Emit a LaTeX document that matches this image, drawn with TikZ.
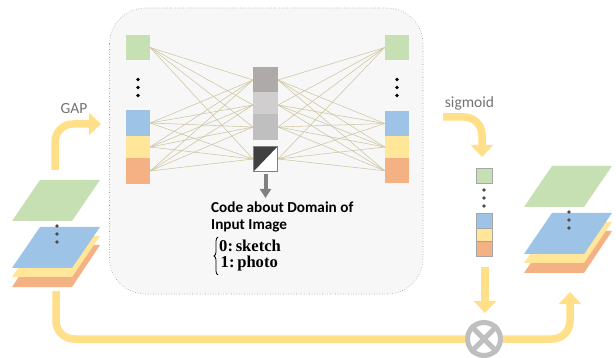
\documentclass[tikz,border=0pt]{standalone}
\usepackage{fontspec}
\setmainfont{Carlito}
\newfontfamily\cambriaish{Liberation Serif}[BoldFont={Liberation Serif Bold}]
\usetikzlibrary{arrows.meta,decorations.pathreplacing}
\definecolor{cgreen}{HTML}{C6E0B4}
\definecolor{cblue}{HTML}{9DC3E6}
\definecolor{cyellow}{HTML}{FFE699}
\definecolor{corange}{HTML}{F4B183}
\definecolor{cpanel}{HTML}{F7F7F7}
\definecolor{cwire}{HTML}{CFC5A0}
\definecolor{cflow}{HTML}{FFDF88}
\definecolor{cgrayd}{HTML}{AEAAAA}
\definecolor{cgrayl}{HTML}{D0CECE}
\definecolor{cgraym}{HTML}{BFBFBF}
\tikzset{
  x=1pt,y=-1pt,
  panel/.style={draw=gray!80,dotted,line width=0.6pt,fill=cpanel,rounded corners=36pt},
  cell/.style={draw=none,inner sep=0pt,outer sep=0pt,minimum width=24.5pt,anchor=north},
  tinycell/.style={draw=gray!70,line width=0.4pt,inner sep=0pt,outer sep=0pt,minimum width=16pt,anchor=north},
  wire/.style={draw=cwire,line width=0.55pt},
  flow/.style={draw=cflow,line width=7.5pt,rounded corners=18pt},
  flowhead/.style={-{Triangle[length=12pt,width=22pt]}},
  sheet/.style={draw=gray!60,draw opacity=0,line width=0.3pt},
  blackdot/.style={circle,fill=black,inner sep=0pt,minimum size=3.8pt},
  graydot/.style={circle,fill=black!70,inner sep=0pt,minimum size=3.8pt},
  caption/.style={anchor=west,inner sep=0pt,font=\fontsize{15.2}{17}\selectfont\bfseries},
  casetext/.style={anchor=west,inner sep=0pt,font=\cambriaish\bfseries\fontsize{16.6}{17.5}\selectfont},
  graylabel/.style={inner sep=0pt,text=black!55,font=\fontsize{15.5}{17}\selectfont},
}
\newcommand{\stackplanes}[2]{%
  % #1 = x of lower-left corner, #2 = y of top of the blue plane
  \fill[corange,sheet] (#1+28,#2+18) -- (#1+88,#2+18) -- (#1+60,#2+60) -- (#1,#2+60) -- cycle;
  \fill[cyellow,sheet] (#1+28,#2+9) -- (#1+88,#2+9) -- (#1+60,#2+50) -- (#1,#2+50) -- cycle;
  \fill[cblue,sheet] (#1+28,#2) -- (#1+88,#2) -- (#1+60,#2+41) -- (#1,#2+41) -- cycle;
  \fill[cgreen,sheet] (#1+28,#2-47) -- (#1+88,#2-47) -- (#1+60,#2-6) -- (#1,#2-6) -- cycle;
}
\begin{document}
\begin{tikzpicture}
\useasboundingbox (0,0) rectangle (616,358);
\fill[white] (0,0) rectangle (616,358);
% panel
\draw[panel] (109.5,8) rectangle (423,294);
% left column
\node[cell,fill=cgreen,minimum height=25pt] (l1) at (138,35) {};
\node[cell,fill=cblue,minimum height=26pt] (l2) at (138,110) {};
\node[cell,fill=cyellow,minimum height=22pt] (l3) at (138,136) {};
\node[cell,fill=corange,minimum height=26pt] (l4) at (138,158) {};
% right column
\node[cell,fill=cgreen,minimum height=25pt] (r1) at (397,35) {};
\node[cell,fill=cblue,minimum height=25pt] (r2) at (397,111) {};
\node[cell,fill=cyellow,minimum height=22pt] (r3) at (397,136) {};
\node[cell,fill=corange,minimum height=25.5pt] (r4) at (397,158) {};
% wires
\coordinate (m1w) at (253,80); \coordinate (m1e) at (278,80);
\coordinate (m2w) at (253,105); \coordinate (m2e) at (278,105);
\coordinate (m3w) at (253,127); \coordinate (m3e) at (278,127);
\coordinate (m4w) at (253,159); \coordinate (m4e) at (278,159);
\foreach \a in {1,2,3,4}{
  \foreach \b in {1,2,3,4}{
    \draw[wire] (l\a.east) -- (m\b w);
    \draw[wire] (m\b e) -- (r\a.west);
  }
}
% middle column
\node[cell,fill=cgrayd,minimum height=25.5pt] (m1) at (265.5,67) {};
\node[cell,fill=cgrayl,minimum height=22pt] (m2) at (265.5,92.5) {};
\node[cell,fill=cgraym,minimum height=25.5pt] (m3) at (265.5,114.5) {};
\node[cell,fill=white,minimum width=24pt,minimum height=25pt,draw=black!50,line width=1.2pt,
  path picture={\fill[black!75] (path picture bounding box.north west) -- (path picture bounding box.north east) -- (path picture bounding box.south west) -- cycle;}] (m4) at (265.5,146.5) {};
% dots
\foreach \y [count=\i] in {79.5,87.5,95.5}{
  \node[blackdot] (ld\i) at (138,\y) {};
  \node[blackdot] (rd\i) at (397,\y) {};
}
% grey arrow and caption
\coordinate (codeend) at (265.5,198);
\draw[draw=black!50,line width=4pt,-{Triangle[length=9pt,width=11pt]}] (265.5,174) -- (codeend);
\node[caption] (cap1) at (211,207) {Code about Domain of};
\node[caption] (cap2) at (211,226) {Input Image};
\coordinate (bracea) at (218,275); \coordinate (braceb) at (218,237);
\draw[line width=0.8pt,decorate,decoration={brace,amplitude=4pt,aspect=0.5}] (bracea) -- (braceb);
\node[casetext] (case0) at (219,246) {0:\,sketch};
\node[casetext] (case1) at (220.5,264) {1:\,photo};
% left planes
\stackplanes{12}{227}
\foreach \y [count=\i] in {226,234,242}{\node[graydot] (lp\i) at (57,\y) {};}
% right planes
\stackplanes{524}{213}
\foreach \y [count=\i] in {212,220,228}{\node[graydot] (rp\i) at (569,\y) {};}
% small column
\node[tinycell,fill=cgreen,minimum height=15pt] (s1) at (484,168) {};
\foreach \y [count=\i] in {190,198,206}{\node[graydot] (sd\i) at (484,\y) {};}
\node[tinycell,fill=cblue,minimum height=15pt] (s2) at (484,213) {};
\node[tinycell,fill=cyellow,minimum height=13pt] (s3) at (484,228) {};
\node[tinycell,fill=corange,minimum height=15pt] (s4) at (484,241) {};
% labels
\node[graylabel] (gap) at (74,109) {GAP};
\node[graylabel] (sig) at (469.5,103) {sigmoid};
% flows
\coordinate (gapa) at (55,170); \coordinate (gapb) at (101,124);
\draw[flow,flowhead] (gapa) |- (gapb);
\coordinate (siga) at (443,117); \coordinate (sigb) at (482,157);
\draw[flow,flowhead] (siga) -| (sigb);
\coordinate (downa) at (485,267); \coordinate (downb) at (485,313);
\coordinate (starta) at (56,291); \coordinate (enda) at (570,292);
\node[circle,draw=cgraym,fill=white,line width=5pt,minimum size=33pt,inner sep=0pt] (mul) at (484,339) {};
\draw[flow] (starta) |- (mul.west);
\draw[flow,flowhead] (mul.east) -| (enda);
\draw[flow,flowhead,rounded corners=0pt] (downa) -- (downb);
\draw[draw=cgraym,line width=5pt] (mul.45) -- (mul.225);
\draw[draw=cgraym,line width=5pt] (mul.135) -- (mul.315);
\end{tikzpicture}
\end{document}
